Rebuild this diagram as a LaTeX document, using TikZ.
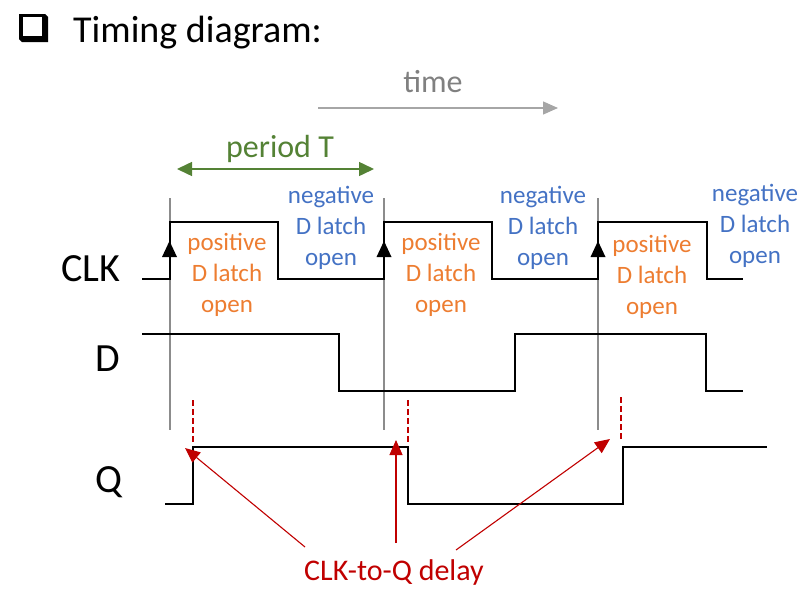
\documentclass[tikz,border=0pt]{standalone}
\usepackage{fontspec}
\setmainfont{Carlito}
\usetikzlibrary{arrows.meta}
\definecolor{latchorange}{HTML}{ED7D31}
\definecolor{latchblue}{HTML}{4472C4}
\definecolor{pergreen}{HTML}{548235}
\definecolor{timegray}{HTML}{808080}
\definecolor{timearrow}{HTML}{A6A6A6}
\definecolor{edgegray}{HTML}{8C8C8C}
\definecolor{delayred}{HTML}{C00000}
\newcommand{\threelines}[3]{\begin{tabular}[t]{@{}c@{}}#1\\#2\\#3\end{tabular}}
\tikzset{
  signal/.style={line width=2.8pt, black, line join=miter},
  edgeline/.style={line width=1.8pt, edgegray},
  delaydash/.style={line width=2pt, delayred, dash pattern=on 6pt off 3pt},
  delayarrow/.style={line width=1.1pt, delayred, -{Triangle[length=15pt,width=13pt]}},
  lbl/.style={inner sep=0pt, anchor=base},
  poslbl/.style={lbl, text=latchorange, font=\fontsize{25}{31}\selectfont},
  neglbl/.style={lbl, text=latchblue, font=\fontsize{25}{31}\selectfont},
  siglbl/.style={lbl, font=\fontsize{40}{44}\selectfont},
}
\begin{document}
\begin{tikzpicture}[x=1pt,y=-1pt]
\useasboundingbox (0,0) rectangle (811,605);
% title
\fill[black] (19,14) -- (45,14) -- (48,17) -- (48,42) -- (22,42) -- (19,39) -- cycle;
\fill[white] (22.5,16.5) rectangle (41.5,36);
\node[lbl, anchor=base west, font=\fontsize{38}{42}\selectfont] (title) at (73,42) {Timing diagram:};
% time arrow
\coordinate (t0) at (318,108);
\coordinate (t1) at (558,108);
\draw[timearrow, line width=1.3pt, -{Triangle[length=15pt,width=13pt]}] (t0) -- (t1);
\node[lbl, text=timegray, font=\fontsize{32}{36}\selectfont] (time) at (433,92) {time};
% period arrow
\coordinate (p0) at (177,169);
\coordinate (p1) at (374,169);
\draw[pergreen, line width=1.5pt, {Triangle[length=15pt,width=14pt]}-{Triangle[length=15pt,width=14pt]}] (p0) -- (p1);
\node[lbl, text=pergreen, font=\fontsize{32}{36}\selectfont] (period) at (280,157) {period T};
% clock edge verticals
\foreach \x in {170,384,598} {
  \draw[edgeline] (\x,198) -- (\x,430);
}
% signal labels
\node[siglbl] (clk) at (91,281) {CLK};
\node[siglbl] (d) at (108,371) {D};
\node[siglbl] (q) at (109,492) {Q};
% signals
\draw[signal] (142,279) -- (170,279) -- (170,222) -- (278,222) -- (278,279) -- (384,279) -- (384,222) -- (492,222) -- (492,279) -- (598,279) -- (598,222) -- (707,222) -- (707,279) -- (743,279);
\draw[signal] (142,334) -- (339,334) -- (339,391) -- (515,391) -- (515,334) -- (706,334) -- (706,391) -- (743,391);
\draw[signal] (165,504) -- (193,504) -- (193,447) -- (408,447) -- (408,504) -- (623,504) -- (623,447) -- (767,447);
% rising-edge markers
\foreach \x in {169.5,384,598} {
  \fill[black] (\x,241) -- (\x-7.5,257) -- (\x+7.5,257) -- cycle;
}
% latch labels
\node[poslbl] (pos1) at (227,250) {\threelines{positive}{D latch}{open}};
\node[poslbl] (pos2) at (441,250) {\threelines{positive}{D latch}{open}};
\node[poslbl] (pos3) at (652,252) {\threelines{positive}{D latch}{open}};
\node[neglbl] (neg1) at (331,203) {\threelines{negative}{D latch}{open}};
\node[neglbl] (neg2) at (543,203) {\threelines{negative}{D latch}{open}};
\node[neglbl] (neg3) at (755,201) {\threelines{negative}{D latch}{open}};
% delay markers
\draw[delaydash] (193,400) -- (193,443);
\draw[delaydash] (408,400) -- (408,443);
\draw[delaydash] (621,397) -- (621,440);
% delay label and arrows
\node[lbl, text=delayred, font=\fontsize{30}{34}\selectfont] (delay) at (394,580) {CLK-to-Q delay};
\coordinate (a1s) at (305,547);
\coordinate (a1e) at (185,448);
\coordinate (a2s) at (396,543);
\coordinate (a2e) at (396,440);
\coordinate (a3s) at (456,550);
\coordinate (a3e) at (610,439);
\draw[delayarrow] (a1s) -- (a1e);
\draw[delayarrow] (a2s) -- (a2e);
\draw[delayarrow] (a3s) -- (a3e);
\end{tikzpicture}
\end{document}
